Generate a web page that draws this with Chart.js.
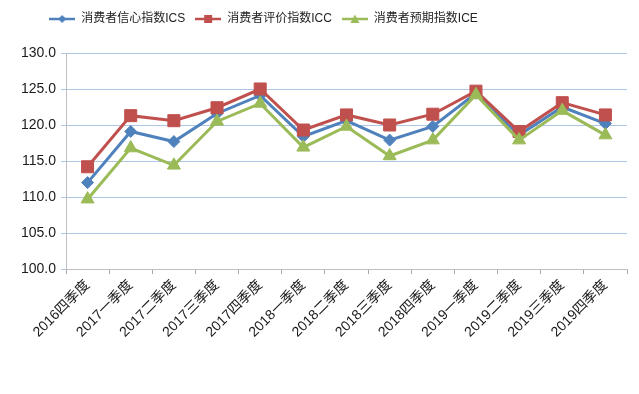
<!DOCTYPE html>
<html>
<head>
<meta charset="utf-8">
<script src="https://cdn.jsdelivr.net/npm/chart.js@4"></script>
<style>
  html, body { margin: 0; padding: 0; background: #fff; }
  canvas { display: block; }
</style>
</head>
<body>
<canvas id="grafico" width="639" height="394"></canvas>
<script>
// Dados
const categorias = ['2016四季度', '2017一季度', '2017二季度', '2017三季度', '2017四季度',
    '2018一季度', '2018二季度', '2018三季度', '2018四季度',
    '2019一季度', '2019二季度', '2019三季度', '2019四季度'];
const serieICS = [112.0, 119.1, 117.7, 121.6, 124.1, 118.4, 120.6, 117.9, 119.8, 124.4, 118.6, 122.5, 120.2];
const serieICC = [114.2, 121.3, 120.6, 122.4, 125.0, 119.3, 121.4, 120.0, 121.5, 124.7, 119.1, 123.1, 121.4];
const serieICE = [109.7, 116.8, 114.4, 120.5, 123.0, 116.9, 119.8, 115.7, 117.9, 124.2, 117.9, 122.0, 118.6];
const nomes = ['消费者信心指数ICS', '消费者评价指数ICC', '消费者预期指数ICE'];
const cores = ['#4F81BD', '#C0504D', '#9BBB59'];
const marcadores = ['rectRot', 'rect', 'triangle'];

const fonte = "'Liberation Sans', 'Noto Sans CJK SC', sans-serif";

// ícone da legenda: linha com marcador no meio
function iconeLegenda(cor, estilo) {
    const c = document.createElement('canvas');
    c.width = 26; c.height = 12;
    const g = c.getContext('2d');
    g.strokeStyle = cor; g.fillStyle = cor; g.lineWidth = 2.5;
    g.beginPath(); g.moveTo(0, 6); g.lineTo(26, 6); g.stroke();
    g.beginPath();
    if (estilo === 'rectRot') {
        g.moveTo(13, 2); g.lineTo(17, 6); g.lineTo(13, 10); g.lineTo(9, 6);
    } else if (estilo === 'rect') {
        g.rect(9, 2, 8, 8);
    } else {
        g.moveTo(13, 1.5); g.lineTo(17.5, 10); g.lineTo(8.5, 10);
    }
    g.closePath(); g.fill();
    return c;
}
const icones = cores.map((c, i) => iconeLegenda(c, marcadores[i]));

const series = [serieICS, serieICC, serieICE];
const raios = [6, 8.5, 7.5];

const ctx = document.getElementById('grafico').getContext('2d');

new Chart(ctx, {
    type: 'line',
    data: {
        labels: categorias,
        datasets: series.map((s, i) => ({
            label: nomes[i],
            data: s,
            borderColor: cores[i],
            backgroundColor: cores[i],
            borderWidth: 3,
            pointStyle: marcadores[i],
            pointRadius: raios[i],
            pointBorderWidth: 1,
            tension: 0,
            order: 2 - i
        }))
    },
    options: {
        responsive: false,
        animation: false,
        layout: { padding: { left: 0, right: 12, top: 0, bottom: 0 } },
        plugins: {
            legend: {
                position: 'top',
                labels: {
                    usePointStyle: true,
                    pointStyleWidth: 26,
                    padding: 10,
                    color: '#222',
                    font: { size: 12, family: fonte },
                    sort: (a, b) => a.datasetIndex - b.datasetIndex,
                    generateLabels: (chart) => {
                        const itens = Chart.defaults.plugins.legend.labels.generateLabels(chart);
                        itens.forEach(it => { it.pointStyle = icones[it.datasetIndex]; });
                        return itens;
                    }
                }
            },
            tooltip: { enabled: false }
        },
        scales: {
            x: {
                offset: true,
                grid: { drawOnChartArea: false, drawTicks: true, tickLength: 5, offset: true, color: '#A6A6A6' },
                border: { color: '#BFBFBF' },
                ticks: {
                    minRotation: 45, maxRotation: 45,
                    color: '#1a1a1a',
                    font: { size: 14, family: fonte },
                    autoSkip: false
                },
                afterFit: (s) => { s.height = 125; }
            },
            y: {
                min: 100, max: 130,
                grid: { color: '#AFC6E4', tickLength: 5, lineWidth: 1 },
                border: { color: '#BFBFBF' },
                ticks: {
                    stepSize: 5,
                    color: '#1a1a1a',
                    padding: 5,
                    font: { size: 14, family: fonte },
                    callback: (v) => Number(v).toFixed(1)
                },
                afterFit: (s) => { s.width = 66; }
            }
        }
    },
    plugins: [{
        id: 'ajusteLegenda',
        afterInit(chart) {
            const leg = chart.legend;
            const fitOriginal = leg.fit;
            leg.fit = function () {
                fitOriginal.call(this);
                this.height = 53;
            };
            // desloca a legenda para a esquerda, como no original
            const drawOriginal = leg.draw;
            leg.draw = function () {
                this.ctx.save();
                this.ctx.translate(-50, 3);
                drawOriginal.call(this);
                this.ctx.restore();
            };
        }
    }]
});
</script>
</body>
</html>
